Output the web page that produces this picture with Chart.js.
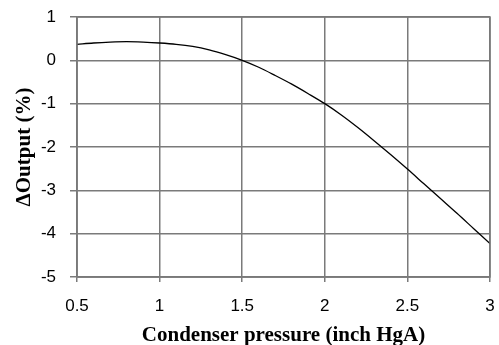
<!DOCTYPE html>
<html>
<head>
<meta charset="utf-8">
<script src="https://cdn.jsdelivr.net/npm/chart.js@4/dist/chart.umd.min.js"></script>
<style>
html,body{margin:0;padding:0;background:#fff;}
#wrap{width:499px;height:345px;}
</style>
</head>
<body>
<div id="wrap"><canvas id="c"></canvas></div>
<script>
const pressure = [0.5,0.6,0.7,0.8,0.9,1.0,1.1,1.2,1.3,1.4,1.5,1.6,1.7,1.8,1.9,2.0,2.1,2.2,2.3,2.4,2.5,2.6,2.7,2.8,2.9,3.0];
const deltaOutput = [0.37,0.40,0.42,0.43,0.42,0.40,0.37,0.32,0.24,0.13,0.0,-0.16,-0.35,-0.55,-0.77,-1.0,-1.26,-1.55,-1.86,-2.18,-2.51,-2.85,-3.19,-3.53,-3.88,-4.23];
const xTitle = 'Condenser pressure (inch HgA)';
const yTitle = 'ΔOutput (%)';

const points = pressure.map((p,i)=>({x:p,y:deltaOutput[i]}));
const gridCol = '#7a7a7a';
const tickFont = {family: '"Liberation Sans", Arial, sans-serif', size: 17};
const titleFont = {family: '"Liberation Serif", "Times New Roman", serif', size: 21, weight: 'bold', lineHeight: 0.85};
new Chart(document.getElementById('c'), {
  type: 'scatter',
  data: {datasets: [{
    data: points, showLine: true, borderColor: '#000', borderWidth: 1.3,
    pointRadius: 0, cubicInterpolationMode: 'monotone', fill: false
  }]},
  options: {
    responsive: true, maintainAspectRatio: false, animation: false,
    layout: {padding: {top: 17, right: 9, left: 16, bottom: 0}},
    plugins: {legend: {display: false}, tooltip: {enabled: false}},
    scales: {
      x: {
        type: 'linear', min: 0.5, max: 3,
        afterFit(s) { s.height = 68; s.paddingLeft = 0; s.paddingRight = 0; },
        ticks: {stepSize: 0.5, color: '#000', font: tickFont, padding: 14, maxRotation: 0,
                callback: v => String(Math.round(v * 10) / 10)},
        grid: {color: gridCol, lineWidth: 1.5, tickLength: 5},
        border: {color: gridCol, width: 1.5},
        title: {display: true, text: xTitle, color: '#000', font: titleFont, padding: {top: 0, bottom: 0}}
      },
      y: {
        min: -5, max: 1,
        afterFit(s) { s.width = 61; s.paddingTop = 0; s.paddingBottom = 0; },
        ticks: {stepSize: 1, color: '#000', font: tickFont, padding: 14,
                callback: v => String(v)},
        grid: {color: gridCol, lineWidth: 1.5, tickLength: 7},
        border: {color: gridCol, width: 1.5},
        title: {display: true, text: yTitle, color: '#000', font: titleFont, padding: {top: 0, bottom: 0}}
      }
    }
  },
  plugins: [{
    id: 'frame',
    afterDraw(chart) {
      const {ctx, chartArea: a} = chart;
      ctx.save();
      ctx.strokeStyle = gridCol; ctx.lineWidth = 1.5;
      ctx.strokeRect(a.left, a.top, a.right - a.left, a.bottom - a.top);
      ctx.restore();
    }
  }]
});
</script>
</body>
</html>
